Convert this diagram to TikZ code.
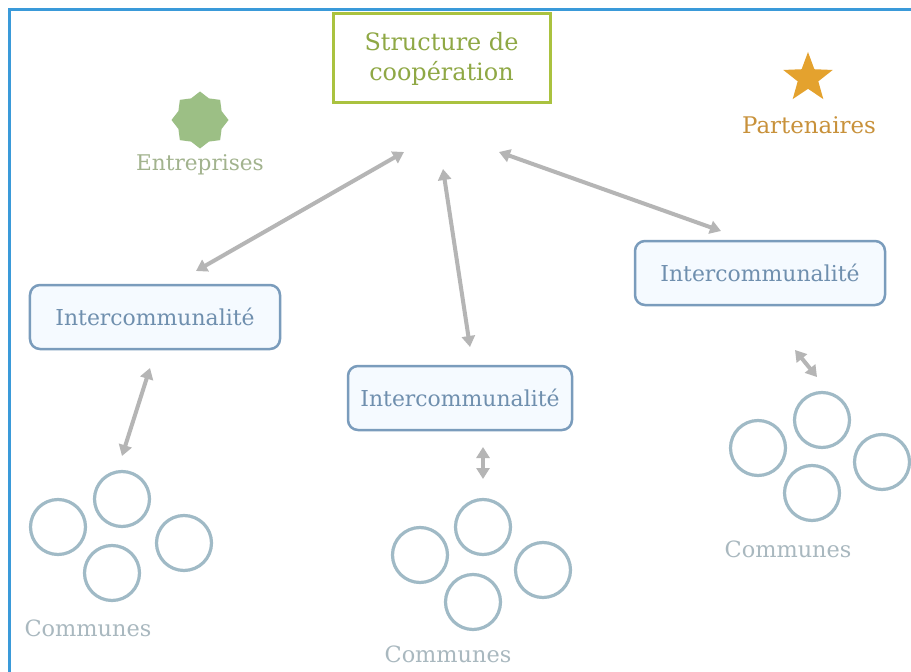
\documentclass[tikz,border=0pt]{standalone}
\usepackage{fontspec}
\setmainfont{DejaVu Serif}
\usetikzlibrary{arrows.meta,shapes.geometric}
\definecolor{frameblue}{HTML}{3A9AD9}
\definecolor{coopgreen}{HTML}{AAC23F}
\definecolor{cooptext}{HTML}{8FA845}
\definecolor{entgreen}{HTML}{9CBF85}
\definecolor{enttext}{HTML}{A2B38E}
\definecolor{partorange}{HTML}{E4A22E}
\definecolor{parttext}{HTML}{C8913A}
\definecolor{icborder}{HTML}{7A9CBC}
\definecolor{ictext}{HTML}{6F8FAE}
\definecolor{icfill}{HTML}{F5FAFF}
\definecolor{circstroke}{HTML}{A0BAC6}
\definecolor{commtext}{HTML}{A9B8BF}
\definecolor{arrowgrey}{HTML}{B5B5B5}
\tikzset{
  coopbox/.style={draw=coopgreen, line width=3bp, fill=white, minimum width=217bp, minimum height=89bp, align=center, text=cooptext, font=\fontsize{24}{30}\selectfont, inner sep=0pt},
  icbox/.style={draw=icborder, line width=2.5bp, fill=icfill, rounded corners=10bp, minimum height=64bp, text=ictext, font=\fontsize{22}{24}\selectfont, inner sep=0pt},
  commcirc/.style={circle, draw=circstroke, line width=3.2bp, fill=white, minimum size=55bp, inner sep=0pt},
  commlabel/.style={text=commtext, font=\fontsize{22.5}{24}\selectfont, inner sep=0pt},
  link/.style={draw=arrowgrey, line width=4bp, {Triangle[length=11bp,width=13bp]}-{Triangle[length=11bp,width=13bp]}},
}
\begin{document}
\begin{tikzpicture}[x=1bp,y=-1bp]
\useasboundingbox (0,0) rectangle (911,672);
\fill[white] (0,0) rectangle (911,672);
% frame
\draw[frameblue, line width=3bp] (9,672) -- (9,10) -- (911,10);

% top box
\node[coopbox] (coop) at (441.5,58.5) {Structure de\\coopération};

% Entreprises
\node[star, star points=8, star point ratio=1.22, fill=entgreen, minimum size=57bp, inner sep=0pt] (entstar) at (200,120) {};
\node[text=enttext, font=\fontsize{21.7}{24}\selectfont, inner sep=0pt] (entlabel) at (200,165) {Entreprises};

% Partenaires
\node[star, star points=5, star point ratio=2.4, fill=partorange, minimum size=52bp, inner sep=0pt] (partstar) at (808,78) {};
\node[text=parttext, font=\fontsize{23}{24}\selectfont, inner sep=0pt] (partlabel) at (809,125) {Partenaires};

% Intercommunalite boxes
\node[icbox, minimum width=250bp] (ic1) at (155,317) {Intercommunalité};
\node[icbox, minimum width=224bp] (ic2) at (460,398) {Intercommunalité};
\node[icbox, minimum width=250bp] (ic3) at (760,273) {Intercommunalité};

% communes clusters
\node[commcirc] (c1a) at (58,527) {};
\node[commcirc] (c1b) at (122,499) {};
\node[commcirc] (c1c) at (112,573) {};
\node[commcirc] (c1d) at (184,543) {};
\node[commlabel] (cl1) at (88,628) {Communes};

\node[commcirc] (c2a) at (420,555) {};
\node[commcirc] (c2b) at (483,527) {};
\node[commcirc] (c2c) at (473,602) {};
\node[commcirc] (c2d) at (543,570) {};
\node[commlabel] (cl2) at (448,654) {Communes};

\node[commcirc] (c3a) at (758,448) {};
\node[commcirc] (c3b) at (822,420) {};
\node[commcirc] (c3c) at (812,493) {};
\node[commcirc] (c3d) at (882,462) {};
\node[commlabel] (cl3) at (788,549) {Communes};

% arrow end points
\coordinate (a1s) at (404,152);
\coordinate (a1e) at (196,271);
\coordinate (a2s) at (443,169);
\coordinate (a2e) at (470,347);
\coordinate (a3s) at (499,152);
\coordinate (a3e) at (721,231);
\coordinate (a4s) at (150,368);
\coordinate (a4e) at (122,456);
\coordinate (a5s) at (483,447);
\coordinate (a5e) at (483,479);
\coordinate (a6s) at (795,350);
\coordinate (a6e) at (817,377);

\draw[link] (a1s) -- (a1e);
\draw[link] (a2s) -- (a2e);
\draw[link] (a3s) -- (a3e);
\draw[link] (a4s) -- (a4e);
\draw[link] (a5s) -- (a5e);
\draw[link] (a6s) -- (a6e);
\end{tikzpicture}
\end{document}
